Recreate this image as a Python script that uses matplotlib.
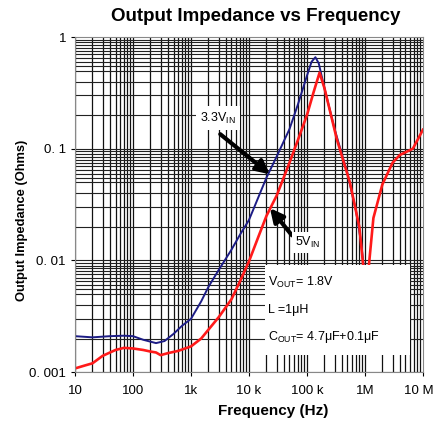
import matplotlib
matplotlib.use("Agg")
import matplotlib.pyplot as plt
import matplotlib.transforms as mtransforms
from matplotlib.patches import Rectangle

plt.rcParams['font.family'] = ['Liberation Sans', 'DejaVu Sans']
plt.rcParams['mathtext.default'] = 'regular'

# 3.3 V input
f_33 = [10, 20, 40, 70, 100, 150, 250, 350, 500, 700, 1000, 1500, 2000, 3000,
        5000, 7000, 10000, 20000, 30000, 50000, 70000, 100000, 120000, 140000,
        160000, 200000, 300000, 500000, 700000, 850000, 950000]
z_33 = [0.0021, 0.00205, 0.0021, 0.00212, 0.0021, 0.00195, 0.00182, 0.0019,
        0.0022, 0.0026, 0.003, 0.0043, 0.0058, 0.0082, 0.0125, 0.017, 0.023,
        0.055, 0.085, 0.15, 0.25, 0.45, 0.6, 0.66, 0.58, 0.35, 0.15, 0.06,
        0.028, 0.015, 0.009]

# 5 V input
f_5 = [10, 15, 20, 30, 50, 70, 100, 150, 200, 250, 300, 400, 600, 1000, 1500,
       2000, 3000, 5000, 7000, 10000, 15000, 20000, 30000, 50000, 70000,
       100000, 130000, 165000, 200000, 330000, 550000, 800000, 1050000,
       1400000, 2000000, 3000000, 4000000, 5000000, 6700000, 10000000]
z_5 = [0.00108, 0.00115, 0.0012, 0.0014, 0.00158, 0.00165, 0.00163, 0.00158,
       0.00153, 0.0015, 0.00142, 0.00148, 0.00155, 0.0017, 0.002, 0.0024,
       0.0031, 0.0045, 0.0065, 0.0098, 0.017, 0.025, 0.038, 0.075, 0.12, 0.2,
       0.32, 0.48, 0.35, 0.12, 0.05, 0.02, 0.005, 0.024, 0.048, 0.075, 0.088,
       0.093, 0.10, 0.148]

xticks = [10, 100, 1e3, 1e4, 1e5, 1e6, 1e7]
xticklabels = ['10', '100', '1k', '10 k', '100 k', '1M', '10 M']
yticks = [0.001, 0.01, 0.1, 1]
yticklabels = ['0. 001', '0. 01', '0. 1', '1']

fig = plt.figure(figsize=(4.36, 4.21), dpi=100)
ax = fig.add_axes([0.172, 0.116, 0.798, 0.796])
ax.set_xscale('log')
ax.set_yscale('log')
ax.set_xlim(10, 1e7)
ax.set_ylim(0.001, 1)

# grid lines (drawn by hand so they sit on the decade fractions)
for d in range(1, 7):
    for m in range(1, 10):
        ax.axvline(m * 10 ** d, color='#111111', lw=0.9, zorder=1)
for d in range(-3, 0):
    for m in [1, 2, 3, 4, 5, 5.5, 6, 6.5, 7, 7.5, 8, 8.5, 9, 9.5]:
        ax.axhline(m * 10.0 ** d, color='#222222', lw=0.8, zorder=1)

ax.plot(f_33, z_33, color='#1c1c85', lw=1.4, zorder=3)
ax.plot(f_5, z_5, color='#ff1a1a', lw=1.9, zorder=4)

# condition box
ax.add_patch(Rectangle((0.546, 0.051), 0.417, 0.268, transform=ax.transAxes,
                       facecolor='white', edgecolor='none', zorder=5))
ax.text(0.555, 0.269, 'V$_{OUT}$= 1.8V', transform=ax.transAxes, fontsize=9,
        va='center', zorder=6)
ax.text(0.555, 0.185, 'L =1\u03bcH', transform=ax.transAxes, fontsize=9,
        va='center', zorder=6)
ax.text(0.555, 0.104, 'C$_{OUT}$= 4.7\u03bcF+0.1\u03bcF', transform=ax.transAxes,
        fontsize=9, va='center', zorder=6)

arrow = dict(arrowstyle='-|>,head_width=0.4,head_length=0.8', color='black',
             lw=3, shrinkA=0, shrinkB=0)
ax.annotate('', xy=(23000, 0.059), xytext=(3200, 0.135), arrowprops=arrow,
            zorder=6)
ax.text(2924, 0.188, '3.3V$_{IN}$', fontsize=9, ha='center', va='center',
        zorder=6, bbox=dict(facecolor='white', edgecolor='none', pad=3))
ax.annotate('', xy=(23000, 0.0294), xytext=(55000, 0.0168), arrowprops=arrow,
            zorder=6)
ax.text(62000, 0.0145, '5V$_{IN}$', fontsize=9, ha='left', va='center',
        zorder=6, bbox=dict(facecolor='white', edgecolor='none', pad=2))

ax.set_xticks(xticks)
ax.set_xticklabels(xticklabels)
ax.set_yticks(yticks)
ax.set_yticklabels(yticklabels)
ax.minorticks_off()
ax.tick_params(labelsize=9.5, length=3)
ax.tick_params(axis='x', pad=6)
last = ax.get_xticklabels()[-1]
last.set_transform(last.get_transform() +
                   mtransforms.ScaledTranslation(-3 / 72, 0, fig.dpi_scale_trans))

for s in ax.spines.values():
    s.set_color('#888888')
    s.set_zorder(7)

fig.text(0.587, 0.96, 'Output Impedance vs Frequency', fontsize=13.5,
         fontweight='bold', ha='center', va='center')
fig.text(0.626, 0.024, 'Frequency (Hz)', fontsize=11, fontweight='bold',
         ha='center', va='center')
fig.text(0.05, 0.477, 'Output Impedance (Ohms)', fontsize=9.3, fontweight='bold',
         ha='center', va='center', rotation=90)

fig.savefig('out.png', dpi=100)
